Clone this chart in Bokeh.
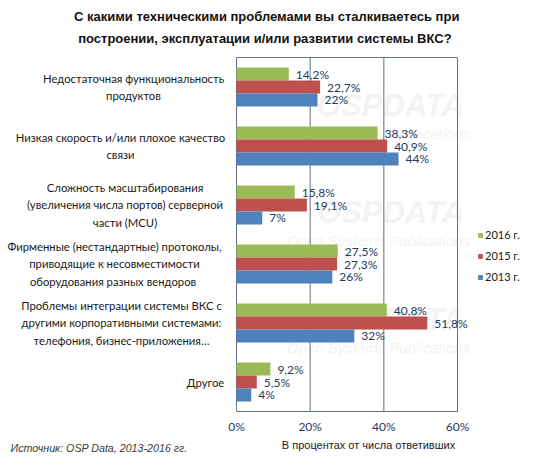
import numpy as np
from bokeh.plotting import figure
from bokeh.models import ColumnDataSource, Range1d, LabelSet, Label, Legend, LegendItem
from bokeh.core.properties import value
from bokeh.embed import file_html
from bokeh.resources import INLINE

# ---------------- data ----------------
categories = [
    "Недостаточная функциональность\nпродуктов",
    "Низкая скорость и/или плохое качество\nсвязи",
    "Сложность масштабирования\n(увеличения числа портов) серверной\nчасти (MCU)",
    "Фирменные (нестандартные) протоколы,\nприводящие к несовместимости\nоборудования  разных вендоров",
    "Проблемы интеграции системы ВКС с\nдругими корпоративными системами:\nтелефония, бизнес-приложения…",
    "Другое",
]
series_names = ["2016 г.", "2015 г.", "2013 г."]
values_2016 = [14.2, 38.3, 15.8, 27.5, 40.8, 9.2]
values_2015 = [22.7, 40.9, 19.1, 27.3, 51.8, 5.5]
values_2013 = [22, 44, 7, 26, 32, 4]
x_ticks = [0, 20, 40, 60]
x_tick_labels = ["0%", "20%", "40%", "60%"]

title_text = ("С какими техническими проблемами вы сталкиваетесь  при\n"
              "построении,  эксплуатации  и/или развитии системы ВКС?")
axis_title = "В процентах от числа ответивших"
source_text = "Источник: OSP Data, 2013-2016 гг."

# ---------------- style / layout ----------------
colors = ["#9BBB59", "#C0504D", "#4F81BD"]
offsets = [-0.22, 0.0, 0.22]
bar_h = 0.22
label_color = "#243A5E"
line_color = "#62717f"
LF = "Lato"

W, H = 521, 454
# plot area inside the canvas (pixels)
PL, PR, PT, PB = 236, 457, 57, 411
XMAX = x_ticks[-1]
NCAT = len(categories)

def fx(px):  # pixel x -> data x
    return (px - PL) / (PR - PL) * XMAX

def fy(py):  # pixel y -> data y (category index, top edge = -0.5)
    return -0.5 + (py - PT) / (PB - PT) * NCAT

p = figure(width=W, height=H, output_backend="svg", toolbar_location=None,
           x_range=Range1d(fx(0), fx(W)), y_range=Range1d(fy(H), fy(0)),
           x_axis_location=None, y_axis_location=None, min_border=0)
p.title.visible = False
p.background_fill_color = "white"
p.border_fill_color = "white"
p.outline_line_color = None
p.xgrid.grid_line_color = None
p.ygrid.grid_line_color = None

idx = np.arange(NCAT)
y_top, y_bot = -0.5, NCAT - 0.5

# watermark (faint)
for k in range(3):
    p.add_layout(Label(x=fx(390), y=fy(105 + 107 * k), text="OSPDATA", text_align="center",
                       text_baseline="middle", text_font="Liberation Sans",
                       text_font_style="bold italic", text_font_size="31px",
                       text_color="#f3f3f3", level="underlay"))
    p.add_layout(Label(x=fx(378), y=fy(133 + 107 * k), text="Open Systems Publications",
                       text_align="center", text_baseline="middle",
                       text_font="Liberation Sans", text_font_style="italic",
                       text_font_size="15px", text_color="#f3f3f3", level="underlay"))

# grid lines and plot-area border
p.segment(x0=x_ticks, x1=x_ticks, y0=[y_top] * len(x_ticks), y1=[y_bot] * len(x_ticks),
          line_color=line_color, line_width=1)
p.segment(x0=[x_ticks[0]] * 2, x1=[x_ticks[-1]] * 2, y0=[y_top, y_bot], y1=[y_top, y_bot],
          line_color=line_color, line_width=1)

# tick labels
p.text(x=x_ticks, y=[fy(426)] * len(x_ticks), text=x_tick_labels, text_align="center",
       text_baseline="middle", text_font=value(LF), text_font_size="12px",
       text_color=label_color)

renderers = []
all_vals = [values_2016, values_2015, values_2013]
for name, vals, col, off in zip(series_names, all_vals, colors, offsets):
    src = ColumnDataSource(dict(
        y=idx + off, right=vals,
        lab=[(f"{v:g}").replace(".", ",") + "%" for v in vals]))
    r = p.hbar(y="y", right="right", left=0, height=bar_h, source=src,
               fill_color=col, line_color=None)
    renderers.append((name, r))
    p.add_layout(LabelSet(x="right", y="y", text="lab", source=src, x_offset=7,
                          text_align="left", text_baseline="middle",
                          text_font=value(LF), text_font_size="12px",
                          text_color=label_color))

# category labels (lines centered)
cat_centers = [133, 120, 124.5, 114, 121, 205]
for c, cx in zip(range(NCAT), cat_centers):
    p.add_layout(Label(x=fx(cx), y=c, text=categories[c], text_align="center",
                       text_baseline="middle", text_font=LF, text_font_size="11.3px",
                       text_line_height=1.33, text_color="#1a1a1a"))

# title
p.add_layout(Label(x=fx(268), y=fy(27), text=title_text, text_align="center",
                   text_baseline="middle", text_font="Liberation Sans",
                   text_font_style="bold", text_font_size="13px",
                   text_line_height=1.45, text_color="#111111"))
# axis title
p.add_layout(Label(x=fx(368), y=fy(444), text=axis_title, text_align="center",
                   text_baseline="middle", text_font="Liberation Sans",
                   text_font_size="11px", text_color="#1a1a1a"))
# source
p.add_layout(Label(x=fx(10), y=fy(447), text=source_text, text_align="left",
                   text_baseline="middle", text_font="Liberation Sans",
                   text_font_style="italic", text_font_size="10.7px", text_color="#3a3a3a"))

legend = Legend(items=[LegendItem(label=n, renderers=[r]) for n, r in renderers],
                location=(477, H - 287), orientation="vertical",
                glyph_width=6, glyph_height=6, label_height=21, label_standoff=2,
                spacing=0, padding=0, margin=0,
                label_text_font=LF, label_text_font_size="11px",
                label_text_color="#1a1a1a",
                background_fill_alpha=0, border_line_color=None)
p.add_layout(legend)

open("out.html", "w").write(file_html(p, INLINE))
